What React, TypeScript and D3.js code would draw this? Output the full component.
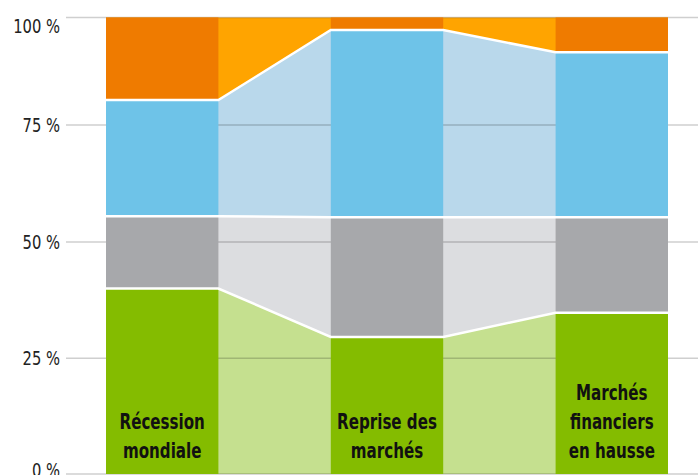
import React from 'react';
import * as d3 from 'd3';

// categories (bars), bottom to top stacking order of the series
const categories = ['Récession mondiale', 'Reprise des marchés', 'Marchés financiers en hausse'];
const categoryLines = [['Récession', 'mondiale'], ['Reprise des', 'marchés'], ['Marchés', 'financiers', 'en hausse']];

const seriesKeys = ['green', 'gray', 'blue', 'orange'];
const greenValues = [40.0, 29.6, 34.8];
const grayValues = [15.5, 25.7, 20.5];
const blueValues = [25.3, 41.8, 36.6];
const orangeValues = [19.2, 2.9, 8.1];

const yTicks = [0, 25, 50, 75, 100];
const yTickLabels = ['0 %', '25 %', '50 %', '75 %', '100 %'];

const barColors = { green: '#84bc00', gray: '#a7a8ab', blue: '#6ec3e8', orange: '#ef7b00' };
const linkColors = { green: '#c5e08f', gray: '#dcdde0', blue: '#b9d8eb', orange: '#ffa400' };

const W = 698;
const H = 475;

const App = () => {
  const rows = categories.map((c, i) => ({
    cat: c,
    green: greenValues[i],
    gray: grayValues[i],
    blue: blueValues[i],
    orange: orangeValues[i],
  }));

  const stacked = d3.stack().keys(seriesKeys)(rows as any);

  // the original axis is not quite evenly spaced at the top
  const y = d3.scaleLinear().domain(yTicks).range([474, 358.3, 242, 125, 17.5]);
  const x = d3.scaleBand().domain(categories).range([106, 668]).paddingInner(0.5).paddingOuter(0);
  const bw = x.bandwidth();

  const pointsOf = (s) =>
    s.flatMap((d) => [
      { x: x(d.data.cat), d },
      { x: x(d.data.cat) + bw, d },
    ]);

  const area = d3.area()
    .x((p: any) => p.x)
    .y0((p: any) => y(p.d[0]))
    .y1((p: any) => y(p.d[1]));

  const topLine = d3.line()
    .x((p: any) => p.x)
    .y((p: any) => y(p.d[1]));

  const labelFont = '"DejaVu Sans Condensed", "DejaVu Sans", sans-serif';

  return (
    <svg width={W} height={H} style={{ position: 'absolute', left: 0, top: 0 }}>
      {/* connecting areas between the bars */}
      {stacked.map((s) => (
        <path key={'a' + s.key} d={area(pointsOf(s) as any)} fill={linkColors[s.key]} />
      ))}

      {/* grid */}
      {yTicks.map((t) => (
        <line key={'g' + t} x1={66} x2={W} y1={y(t)} y2={y(t)} stroke="#000" strokeOpacity={0.19} strokeWidth={1.5} />
      ))}

      {/* bars */}
      {stacked.map((s) =>
        s.map((d) => (
          <rect
            key={s.key + d.data.cat}
            x={x(d.data.cat)}
            y={y(d[1])}
            width={bw}
            height={y(d[0]) - y(d[1])}
            fill={barColors[s.key]}
          />
        ))
      )}

      {/* white separators */}
      {stacked.slice(0, -1).map((s) => (
        <path key={'l' + s.key} d={topLine(pointsOf(s) as any)} fill="none" stroke="#fff" strokeWidth={2.5} />
      ))}

      {/* y labels */}
      {yTicks.map((t, i) => (
        <g key={'t' + t} transform={`translate(60,${Math.min(Math.max(y(t), 26), 470) + 7}) scale(0.82,1)`}>
          <text textAnchor="end" fontFamily={labelFont} fontSize={20} fill="#222">
            {yTickLabels[i]}
          </text>
        </g>
      ))}

      {/* category labels inside the bars */}
      {categories.map((c, i) => {
        const lines = categoryLines[i];
        return (
          <g key={'c' + c} transform={`translate(${x(c) + bw / 2},0) scale(0.8,1)`}>
            <text textAnchor="middle" fontFamily={labelFont} fontWeight="bold" fontSize={21} fill="#111">
              {lines.map((ln, j) => (
                <tspan key={j} x={0} y={458 - (lines.length - 1 - j) * 29}>
                  {ln}
                </tspan>
              ))}
            </text>
          </g>
        );
      })}
    </svg>
  );
};

export default App;
